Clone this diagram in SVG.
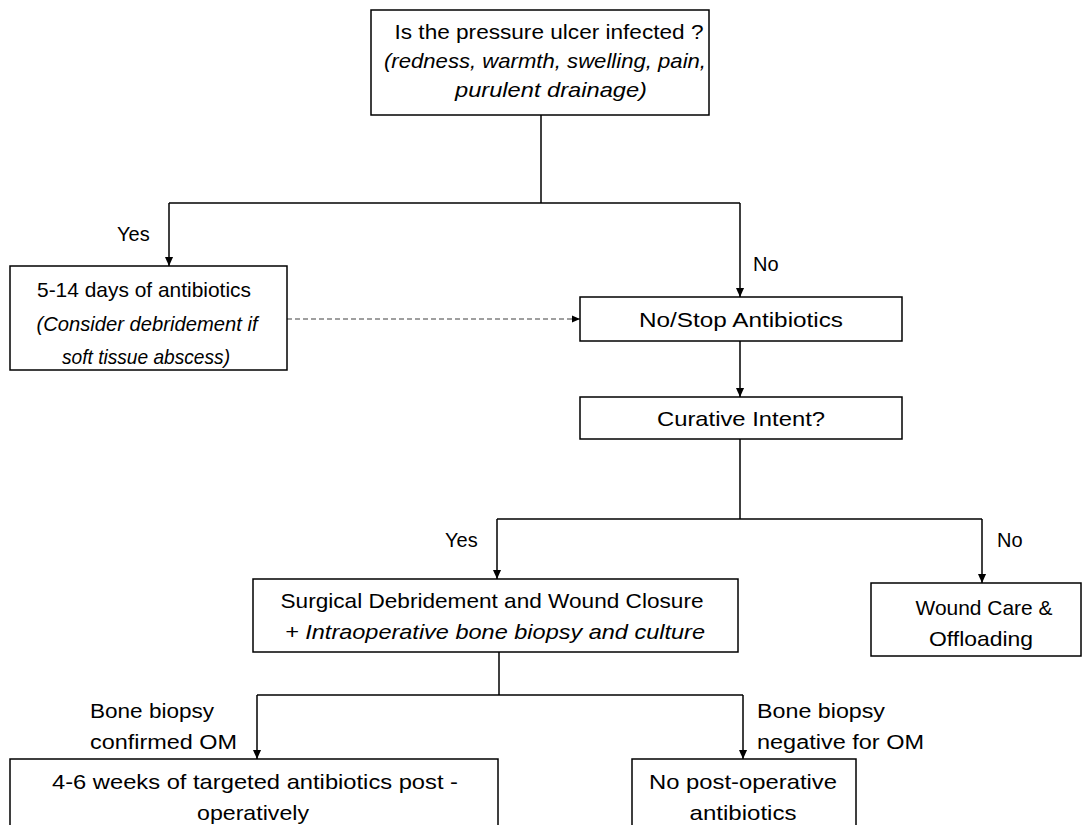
<svg xmlns="http://www.w3.org/2000/svg" width="1082" height="825" viewBox="0 0 1082 825">
<style>
.box{fill:#fff;stroke:#000;stroke-width:1.5}
.t{font-family:"Liberation Sans",Arial,sans-serif;font-size:21px;fill:#000;text-anchor:middle}
.i{font-style:italic}
.l{font-family:"Liberation Sans",Arial,sans-serif;font-size:20px;fill:#000}
.c{fill:none;stroke:#000;stroke-width:1.5}
.d{fill:none;stroke:#808080;stroke-width:1.3;stroke-dasharray:5 3}
</style>
<defs>
<marker id="a" viewBox="0 0 10 10" refX="10" refY="5" markerWidth="9" markerHeight="9" markerUnits="userSpaceOnUse" orient="auto"><path d="M0,0.5 L10,5 L0,9.5 z" fill="#000"/></marker>
<marker id="ad" viewBox="0 0 10 10" refX="10" refY="5" markerWidth="8" markerHeight="8" markerUnits="userSpaceOnUse" orient="auto"><path d="M0,0.5 L10,5 L0,9.5 z" fill="#000"/></marker>
</defs>
<g id="connectors">
<path class="c" d="M541,115 V203"/>
<path class="c" d="M169,203 H740"/>
<path class="c" d="M169,203 V266" marker-end="url(#a)"/>
<path class="c" d="M740,203 V297" marker-end="url(#a)"/>
<path class="d" d="M287,319 H580" marker-end="url(#ad)"/>
<path class="c" d="M740,341 V397" marker-end="url(#a)"/>
<path class="c" d="M740,439 V519"/>
<path class="c" d="M497,519 H982"/>
<path class="c" d="M497,519 V579" marker-end="url(#a)"/>
<path class="c" d="M982,519 V583" marker-end="url(#a)"/>
<path class="c" d="M499,652 V695"/>
<path class="c" d="M257,695 H743"/>
<path class="c" d="M257,695 V759" marker-end="url(#a)"/>
<path class="c" d="M743,695 V759" marker-end="url(#a)"/>
<text class="l" x="117" y="241">Yes</text>
<text class="l" x="753" y="271">No</text>
<text class="l" x="445" y="547">Yes</text>
<text class="l" x="997" y="547">No</text>
<text class="l" x="90" y="718" textLength="124" lengthAdjust="spacingAndGlyphs">Bone biopsy</text>
<text class="l" x="90" y="749" textLength="147" lengthAdjust="spacingAndGlyphs">confirmed OM</text>
<text class="l" x="757" y="718" textLength="128" lengthAdjust="spacingAndGlyphs">Bone biopsy</text>
<text class="l" x="757" y="749" textLength="167" lengthAdjust="spacingAndGlyphs">negative for OM</text>
</g>
<g id="n-infected">
<rect class="box" x="371" y="10" width="338" height="105"/>
<text class="t" x="549" y="39" textLength="309" lengthAdjust="spacingAndGlyphs">Is the pressure ulcer infected ?</text>
<text class="t i" x="545" y="68" textLength="322" lengthAdjust="spacingAndGlyphs">(redness, warmth, swelling, pain,</text>
<text class="t i" x="551" y="97" textLength="192" lengthAdjust="spacingAndGlyphs">purulent drainage)</text>
</g>
<g id="n-antibiotics">
<rect class="box" x="10" y="266" width="277" height="104"/>
<text class="t" x="144" y="297" textLength="214" lengthAdjust="spacingAndGlyphs">5-14 days of antibiotics</text>
<text class="t i" x="147" y="331" textLength="221" lengthAdjust="spacingAndGlyphs">(Consider debridement if</text>
<text class="t i" x="146" y="364" textLength="168" lengthAdjust="spacingAndGlyphs">soft tissue abscess)</text>
</g>
<g id="n-stop">
<rect class="box" x="580" y="297" width="322" height="44"/>
<text class="t" x="741" y="327" textLength="204" lengthAdjust="spacingAndGlyphs">No/Stop Antibiotics</text>
</g>
<g id="n-curative">
<rect class="box" x="580" y="397" width="322" height="42"/>
<text class="t" x="741" y="426" textLength="168" lengthAdjust="spacingAndGlyphs">Curative Intent?</text>
</g>
<g id="n-surgical">
<rect class="box" x="253" y="579" width="485" height="73"/>
<text class="t" x="492" y="608" textLength="423" lengthAdjust="spacingAndGlyphs">Surgical Debridement and Wound Closure</text>
<text class="t i" x="495" y="639" textLength="420" lengthAdjust="spacingAndGlyphs">+ Intraoperative bone biopsy and culture</text>
</g>
<g id="n-woundcare">
<rect class="box" x="871" y="583" width="210" height="73"/>
<text class="t" x="984" y="615" textLength="137" lengthAdjust="spacingAndGlyphs">Wound Care &amp;</text>
<text class="t" x="981" y="646" textLength="104" lengthAdjust="spacingAndGlyphs">Offloading</text>
</g>
<g id="n-targeted">
<rect class="box" x="10" y="759" width="488" height="80"/>
<text class="t" x="255" y="789" textLength="406" lengthAdjust="spacingAndGlyphs">4-6 weeks of targeted antibiotics post -</text>
<text class="t" x="253" y="820" textLength="112" lengthAdjust="spacingAndGlyphs">operatively</text>
</g>
<g id="n-nopostop">
<rect class="box" x="632" y="759" width="224" height="80"/>
<text class="t" x="743" y="789" textLength="188" lengthAdjust="spacingAndGlyphs">No post-operative</text>
<text class="t" x="743" y="820" textLength="107" lengthAdjust="spacingAndGlyphs">antibiotics</text>
</g>
</svg>
